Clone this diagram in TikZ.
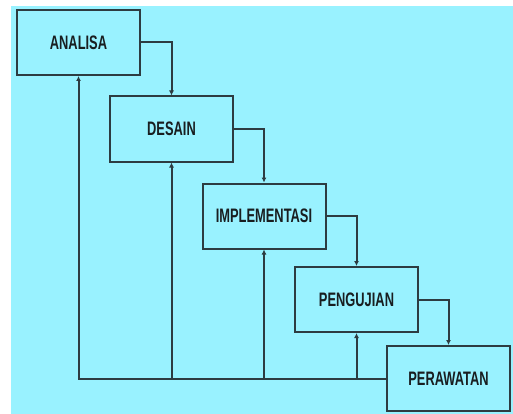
\documentclass[tikz,border=0pt]{standalone}
\usepackage{fontspec}
\setmainfont{Liberation Sans}
\usepackage{graphicx}
\usetikzlibrary{arrows.meta}
\definecolor{bgcyan}{RGB}{153,242,255}
\definecolor{linec}{RGB}{45,60,65}
\definecolor{textc}{RGB}{25,30,32}
\tikzset{
  stagebox/.style={draw=linec, line width=2pt, fill=bgcyan, minimum width=123pt, minimum height=65pt, inner sep=0pt, text=textc, font=\bfseries\fontsize{19.5}{20}\selectfont},
  flowarrow/.style={draw=linec, line width=2pt, -{Latex[length=5pt,width=5pt]}}
}
\newcommand{\cond}[1]{\scalebox{0.66}[1]{#1}}
\begin{document}
\begin{tikzpicture}[x=1pt,y=-1pt]
\useasboundingbox (0,0) rectangle (513,414);
\fill[white] (0,0) rectangle (513,414);
\fill[bgcyan] (11,6) rectangle (513,414);
\node[stagebox] (analisa) at (78.5,42.5) {\cond{ANALISA}};
\node[stagebox] (desain) at (171.5,129) {\cond{DESAIN}};
\node[stagebox] (impl) at (264,216) {\cond{IMPLEMENTASI}};
\node[stagebox] (uji) at (356.5,299.5) {\cond{PENGUJIAN}};
\node[stagebox] (rawat) at (448.5,378.5) {\cond{PERAWATAN}};
\draw[flowarrow] (analisa.east) -| (desain.north);
\draw[flowarrow] (desain.east) -| (impl.north);
\draw[flowarrow] (impl.east) -| (uji.north);
\draw[flowarrow] (uji.east) -| (rawat.north);
\draw[flowarrow] (rawat.west) -| (analisa.south);
\draw[flowarrow] (desain.south |- rawat.west) -- (desain.south);
\draw[flowarrow] (impl.south |- rawat.west) -- (impl.south);
\draw[flowarrow] (uji.south |- rawat.west) -- (uji.south);
\end{tikzpicture}
\end{document}
